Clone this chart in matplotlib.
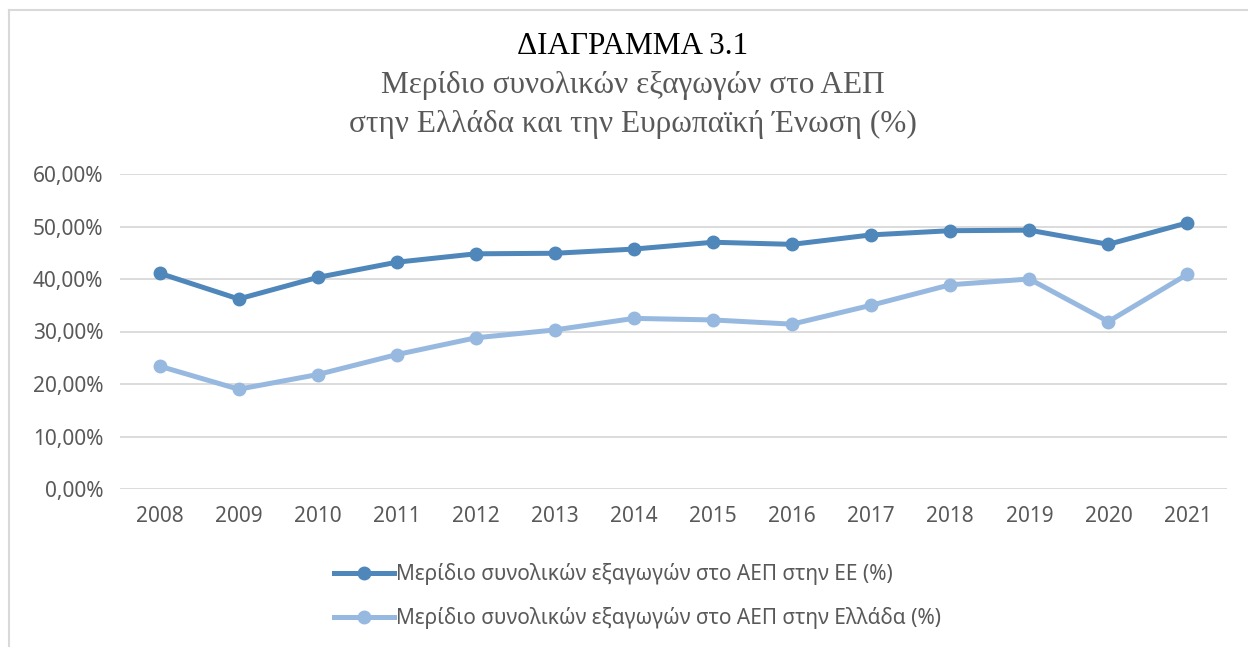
import matplotlib
matplotlib.use('Agg')
import matplotlib.pyplot as plt
from matplotlib.lines import Line2D

# --- Data ---
years = ['2008', '2009', '2010', '2011', '2012', '2013', '2014',
         '2015', '2016', '2017', '2018', '2019', '2020', '2021']
eu_share = [41.1, 36.2, 40.3, 43.2, 44.8, 44.9, 45.7,
            47.0, 46.6, 48.4, 49.2, 49.3, 46.6, 50.7]
gr_share = [23.4, 19.0, 21.8, 25.6, 28.8, 30.3, 32.5,
            32.2, 31.4, 35.0, 38.9, 40.0, 31.9, 40.9]
y_ticks = [0, 10, 20, 30, 40, 50, 60]
y_labels = ['0,00%', '10,00%', '20,00%', '30,00%', '40,00%', '50,00%', '60,00%']

label_eu = 'Μερίδιο συνολικών εξαγωγών στο ΑΕΠ στην ΕΕ (%)'
label_gr = 'Μερίδιο συνολικών εξαγωγών στο ΑΕΠ στην Ελλάδα (%)'

c_eu = '#4f87ba'
c_gr = '#97b9e0'
txt = '#595959'

plt.rcParams['font.family'] = ['Noto Sans', 'DejaVu Sans']

fig = plt.figure(figsize=(12.48, 6.47), dpi=100)
ax = fig.add_axes([120 / 1248, 1 - 489 / 647, (1227 - 120) / 1248, (489 - 174) / 647])

x = list(range(len(years)))
ax.plot(x, eu_share, color=c_eu, lw=3.6, marker='o', ms=9, label=label_eu)
ax.plot(x, gr_share, color=c_gr, lw=3.6, marker='o', ms=9, label=label_gr)

ax.set_xlim(-0.5, len(years) - 0.5)
ax.set_ylim(0, 60)
ax.set_yticks(y_ticks)
ax.set_yticklabels(y_labels)
ax.set_xticks(x)
ax.set_xticklabels(years)
ax.tick_params(length=0, labelsize=15, colors=txt)
ax.tick_params(axis='y', pad=12)
ax.tick_params(axis='x', pad=12)
ax.grid(axis='y', color='#d9d9d9', lw=1.3)
ax.set_axisbelow(True)
for s in ax.spines.values():
    s.set_visible(False)

# --- Titles ---
fig.text(0.507, 1 - 47 / 647, 'ΔΙΑΓΡΑΜΜΑ 3.1', ha='center', va='center',
         fontsize=22.5, family='Liberation Serif', color='black')
fig.text(0.507, 1 - 86 / 647, 'Μερίδιο συνολικών εξαγωγών στο ΑΕΠ', ha='center', va='center',
         fontsize=22.5, family='Liberation Serif', color=txt)
fig.text(0.507, 1 - 124 / 647, 'στην Ελλάδα και την Ευρωπαϊκή Ένωση (%)', ha='center', va='center',
         fontsize=22.5, family='Liberation Serif', color=txt)

# --- Legend ---
handles = [Line2D([], [], color=c_eu, lw=3.6, marker='o', ms=9),
           Line2D([], [], color=c_gr, lw=3.6, marker='o', ms=9)]
fig.legend(handles, [label_eu, label_gr], loc='center left',
           bbox_to_anchor=(324 / 1248, 1 - 596 / 647), frameon=False,
           fontsize=15, labelcolor=txt, handlelength=2.85, handletextpad=0.1,
           labelspacing=1.05, borderpad=0)

# --- Outer frame (top and left only visible) ---
fig.add_artist(Line2D([9 / 1248, 9 / 1248], [0, 1 - 10 / 647], color='#d9d9d9', lw=1.5))
fig.add_artist(Line2D([9 / 1248, 1], [1 - 10 / 647, 1 - 10 / 647], color='#d9d9d9', lw=1.5))

fig.savefig('out.png', dpi=100, facecolor='white')
